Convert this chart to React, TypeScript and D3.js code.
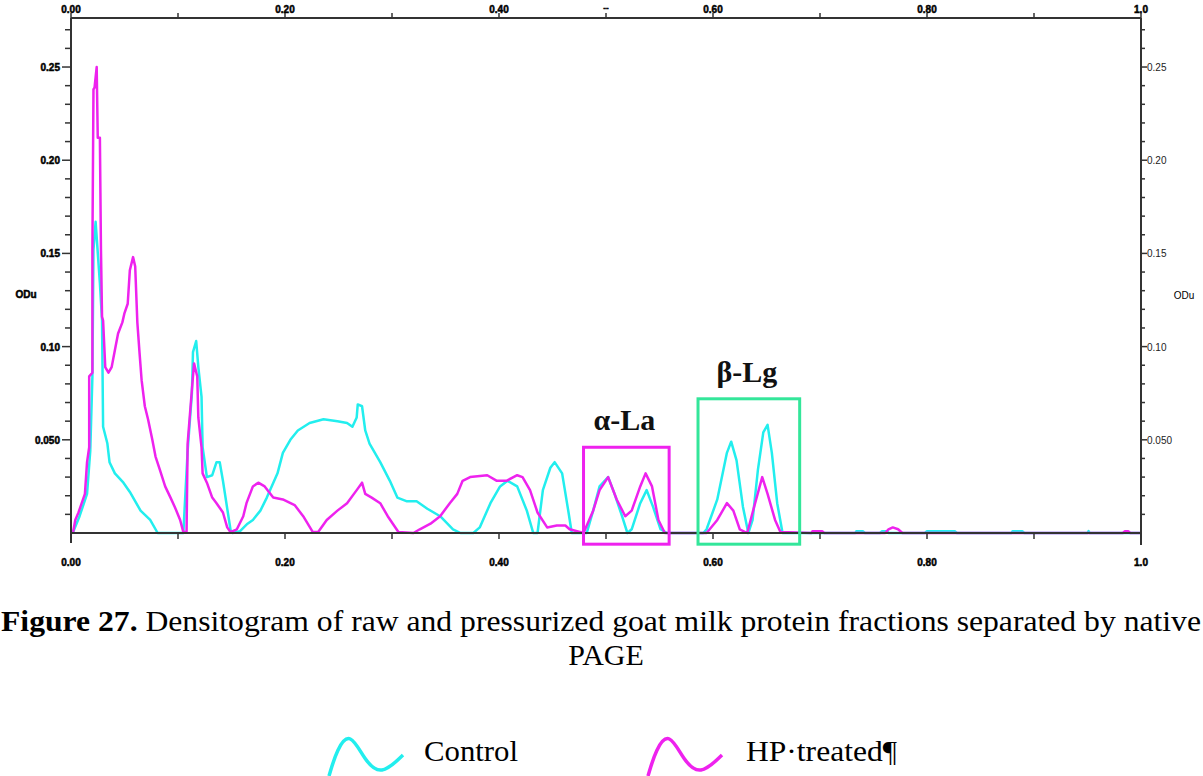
import React from 'react';
import * as d3 from 'd3';

// densitogram traces, [position (0-1), OD]
const controlTrace: [number, number][] = [
  [0.002, 0.0005], [0.008, 0.009], [0.015, 0.021], [0.018, 0.044], [0.020, 0.084], [0.021, 0.152],
  [0.023, 0.167], [0.027, 0.134], [0.029, 0.114], [0.030, 0.057], [0.034, 0.048], [0.036, 0.038],
  [0.041, 0.032], [0.049, 0.027], [0.055, 0.022], [0.065, 0.012], [0.074, 0.007], [0.081, 0],
  [0.105, 0], [0.109, 0.044], [0.113, 0.075], [0.114, 0.097], [0.117, 0.103], [0.119, 0.089],
  [0.122, 0.073], [0.123, 0.046], [0.127, 0.030], [0.132, 0.031], [0.136, 0.038], [0.139, 0.038],
  [0.142, 0.028], [0.149, 0.002], [0.151, 0], [0.158, 0.001], [0.165, 0.005], [0.170, 0.007],
  [0.177, 0.012], [0.183, 0.019], [0.193, 0.032], [0.198, 0.043], [0.205, 0.050], [0.212, 0.055],
  [0.223, 0.059], [0.236, 0.061], [0.249, 0.060], [0.258, 0.059], [0.263, 0.057], [0.267, 0.062],
  [0.268, 0.069], [0.272, 0.068], [0.275, 0.055], [0.279, 0.048], [0.289, 0.038], [0.298, 0.028],
  [0.305, 0.019], [0.314, 0.017], [0.323, 0.017], [0.333, 0.013], [0.345, 0.009], [0.357, 0.002],
  [0.364, 0], [0.376, 0], [0.382, 0.003], [0.392, 0.016], [0.401, 0.025], [0.408, 0.028],
  [0.417, 0.025], [0.426, 0.012], [0.432, 0], [0.436, 0], [0.441, 0.023], [0.448, 0.035],
  [0.452, 0.038], [0.459, 0.032], [0.465, 0.011], [0.468, 0], [0.482, 0], [0.488, 0.012],
  [0.494, 0.025], [0.502, 0.030], [0.508, 0.021], [0.515, 0.009], [0.520, 0], [0.524, 0.002],
  [0.532, 0.016], [0.538, 0.023], [0.544, 0.014], [0.551, 0.002], [0.557, 0], [0.591, 0],
  [0.594, 0.002], [0.604, 0.018], [0.613, 0.043], [0.617, 0.049], [0.622, 0.039], [0.628, 0.014],
  [0.633, 0], [0.637, 0.007], [0.642, 0.034], [0.647, 0.054], [0.651, 0.058], [0.655, 0.043],
  [0.660, 0.016], [0.665, 0], [0.733, 0], [0.734, 0.001], [0.740, 0.001], [0.742, 0],
  [0.756, 0], [0.758, 0.001], [0.763, 0.001], [0.764, 0], [0.798, 0], [0.800, 0.001],
  [0.826, 0.001], [0.828, 0], [0.879, 0], [0.880, 0.001], [0.889, 0.001], [0.891, 0],
  [0.950, 0], [0.951, 0.001], [0.952, 0], [0.999, 0],
];

const hpTrace: [number, number][] = [
  [0.002, 0.0005], [0.004, 0.007], [0.007, 0.011], [0.010, 0.016], [0.013, 0.021], [0.015, 0.038],
  [0.017, 0.046], [0.017, 0.084], [0.020, 0.086], [0.020, 0.152], [0.021, 0.238], [0.022, 0.239],
  [0.024, 0.250], [0.025, 0.212], [0.027, 0.212], [0.028, 0.152], [0.029, 0.116], [0.030, 0.114],
  [0.032, 0.089], [0.035, 0.086], [0.038, 0.089], [0.041, 0.098], [0.044, 0.107], [0.048, 0.113],
  [0.050, 0.118], [0.053, 0.123], [0.055, 0.141], [0.058, 0.148], [0.060, 0.143], [0.062, 0.113],
  [0.064, 0.097], [0.066, 0.082], [0.069, 0.068], [0.072, 0.061], [0.076, 0.050], [0.079, 0.041],
  [0.083, 0.034], [0.088, 0.025], [0.093, 0.019], [0.097, 0.014], [0.102, 0.007], [0.105, 0.0005],
  [0.108, 0.0005], [0.109, 0.048], [0.113, 0.077], [0.115, 0.091], [0.118, 0.084], [0.119, 0.062],
  [0.122, 0.046], [0.123, 0.032], [0.127, 0.027], [0.132, 0.019], [0.136, 0.016], [0.142, 0.011],
  [0.146, 0.003], [0.149, 0.0005], [0.155, 0.002], [0.161, 0.009], [0.164, 0.016], [0.170, 0.025],
  [0.175, 0.027], [0.181, 0.025], [0.189, 0.019], [0.198, 0.018], [0.209, 0.015], [0.217, 0.009],
  [0.226, 0.0005], [0.231, 0.0005], [0.239, 0.007], [0.249, 0.012], [0.258, 0.016], [0.267, 0.023],
  [0.272, 0.027], [0.275, 0.021], [0.281, 0.019], [0.289, 0.016], [0.296, 0.009], [0.306, 0.0005],
  [0.320, 0], [0.326, 0.002], [0.336, 0.005], [0.345, 0.009], [0.354, 0.016], [0.361, 0.021],
  [0.366, 0.028], [0.373, 0.030], [0.389, 0.031], [0.398, 0.028], [0.407, 0.028], [0.417, 0.031],
  [0.422, 0.030], [0.429, 0.023], [0.436, 0.011], [0.445, 0.003], [0.454, 0.004], [0.462, 0.004],
  [0.466, 0.002], [0.479, 0], [0.488, 0.012], [0.494, 0.023], [0.502, 0.030], [0.510, 0.018],
  [0.518, 0.009], [0.524, 0.012], [0.532, 0.025], [0.537, 0.032], [0.543, 0.025], [0.549, 0.007],
  [0.555, 0], [0.594, 0], [0.604, 0.007], [0.613, 0.016], [0.619, 0.012], [0.625, 0.002],
  [0.632, 0], [0.637, 0.011], [0.646, 0.030], [0.651, 0.021], [0.658, 0.007], [0.663, 0.0005],
  [0.692, 0], [0.693, 0.001], [0.702, 0.001], [0.704, 0], [0.761, 0], [0.764, 0.002],
  [0.768, 0.003], [0.773, 0.002], [0.777, 0], [0.983, 0], [0.985, 0.001], [0.988, 0.001],
  [0.990, 0], [0.999, 0],
];

const xTicks = [0, 0.2, 0.4, 0.6, 0.8, 1.0];
const xTickLabels = ['0.00', '0.20', '0.40', '0.60', '0.80', '1.0'];
const yTicks = [0.05, 0.1, 0.15, 0.2, 0.25];
const yTickLabels = ['0.050', '0.10', '0.15', '0.20', '0.25'];

// boxed fractions
const fractionLabels = ['α-La', 'β-Lg'];
const fractionX = [[0.479, 0.559], [0.586, 0.681]];
const fractionY = [[0.046, -0.006], [0.072, -0.006]];

const seriesNames = ['Control', 'HP·treated¶'];

const CYAN = '#22eeee';
const MAGENTA = '#ee22ee';
const GREEN = '#33e69a';

const x = d3.scaleLinear().domain([0, 1]).range([71, 1141]);
const y = d3.scaleLinear().domain([0, 0.2763]).range([533, 18]);

const line = d3.line<[number, number]>()
  .x(d => x(d[0]))
  .y(d => y(d[1]));

// legend icon, one wave
const wave = (x0: number) => {
  const pts: [number, number][] = [[0, 45], [8, 18], [21, 0], [36, 30], [52, 45], [74, 24]];
  return d3.line<[number, number]>().x(d => x0 + d[0]).y(d => 731 + d[1]).curve(d3.curveBasis)(pts);
};

export default function App() {
  const xMinor = d3.range(0, 1.0001, 0.1);
  const yMinor = d3.range(0.01, 0.2701, 0.01);
  const tickFont = {
    fontFamily: 'Liberation Sans, Arial', fontSize: 10, fontWeight: 700,
    stroke: '#000', strokeWidth: 0.5,
  } as const;

  return (
    <svg width={1203} height={776} style={{ position: 'absolute', left: 0, top: 0, background: '#fff' }}>
      <rect width={1203} height={776} fill="#fff" />

      {/* traces */}
      <path d={line(controlTrace) || ''} fill="none" stroke={CYAN} strokeWidth={2.5} strokeLinejoin="round" />
      <path d={line(hpTrace) || ''} fill="none" stroke={MAGENTA} strokeWidth={2.5} strokeLinejoin="round" />

      {/* frame */}
      <g stroke="#333" strokeWidth={2}>
        <line x1={x(0)} x2={x(1)} y1={y.range()[1]} y2={y.range()[1]} />
        <line x1={x(0)} x2={x(1)} y1={y(0)} y2={y(0)} />
        <line x1={x(0)} x2={x(0)} y1={y.range()[1]} y2={y(0) + 10} />
        <line x1={x(1)} x2={x(1)} y1={y.range()[1]} y2={y(0) + 12} />
      </g>

      {/* x ticks */}
      <g stroke="#333" strokeWidth={1.5}>
        {xMinor.map((t, i) => (
          <g key={i}>
            <line x1={x(t)} x2={x(t)} y1={y.range()[1] - 5} y2={y.range()[1]} />
            <line x1={x(t)} x2={x(t)} y1={y(0)} y2={y(0) + 6} />
          </g>
        ))}
      </g>
      {xTicks.map((t, i) => (
        <g key={i} {...tickFont} textAnchor="middle" fill="#000">
          <text x={x(t)} y={13}>{xTickLabels[i]}</text>
          <text x={x(t)} y={566}>{xTickLabels[i]}</text>
        </g>
      ))}
      <text x={606} y={10} textAnchor="middle" {...tickFont} fontSize={8}>--</text>

      {/* y ticks */}
      <g stroke="#333" strokeWidth={1.5}>
        {yMinor.map((t, i) => {
          const major = yTicks.some(v => Math.abs(v - t) < 1e-6);
          return (
            <g key={i}>
              <line x1={x(0) - (major ? 9 : 6)} x2={x(0)} y1={y(t)} y2={y(t)} />
              <line x1={x(1)} x2={x(1) + (major ? 6 : 4)} y1={y(t)} y2={y(t)} />
            </g>
          );
        })}
      </g>
      {yTicks.map((t, i) => (
        <g key={i}>
          <text x={60} y={y(t) + 4} textAnchor="end" {...tickFont}>{yTickLabels[i]}</text>
          <text x={1147} y={y(t) + 4} textAnchor="start" fontFamily="Liberation Sans, Arial" fontSize={10} fill="#222">{yTickLabels[i]}</text>
        </g>
      ))}
      <text x={26} y={298} textAnchor="middle" {...tickFont}>ODu</text>
      <text x={1184} y={299} textAnchor="middle" fontFamily="Liberation Sans, Arial" fontSize={10}>ODu</text>

      {/* fraction boxes */}
      {fractionLabels.map((lab, i) => {
        const x0 = x(fractionX[i][0]);
        const x1 = x(fractionX[i][1]);
        const y0 = y(fractionY[i][0]);
        const y1 = y(fractionY[i][1]);
        const c = i === 0 ? MAGENTA : GREEN;
        return (
          <g key={lab}>
            <rect x={x0} y={y0} width={x1 - x0} height={y1 - y0} fill="none" stroke={c} strokeWidth={3} />
            <text x={(x0 + x1) / 2 - 2} y={y0 - 17} textAnchor="middle" fontFamily="Liberation Serif, Times New Roman"
              fontWeight={700} fontSize={30} fill="#111">{lab}</text>
          </g>
        );
      })}

      {/* caption */}
      <text x={1} y={631} fontFamily="Liberation Serif, Times New Roman" fontSize={30} fill="#000"
        textLength={1200} lengthAdjust="spacingAndGlyphs">
        <tspan fontWeight={700}>Figure 27.</tspan>
        <tspan> Densitogram of raw and pressurized goat milk protein fractions separated by native</tspan>
      </text>
      <text x={606} y={665} textAnchor="middle" fontFamily="Liberation Serif, Times New Roman" fontSize={30}>PAGE</text>

      {/* legend */}
      <path d={wave(329) || ''} fill="none" stroke={CYAN} strokeWidth={3.5} />
      <text x={424} y={761} fontFamily="Liberation Serif, Times New Roman" fontSize={30}
        textLength={94} lengthAdjust="spacingAndGlyphs">{seriesNames[0]}</text>
      <path d={wave(648) || ''} fill="none" stroke={MAGENTA} strokeWidth={3.5} />
      <text x={746} y={761} fontFamily="Liberation Serif, Times New Roman" fontSize={30}
        textLength={151} lengthAdjust="spacingAndGlyphs">{seriesNames[1]}</text>
    </svg>
  );
}
